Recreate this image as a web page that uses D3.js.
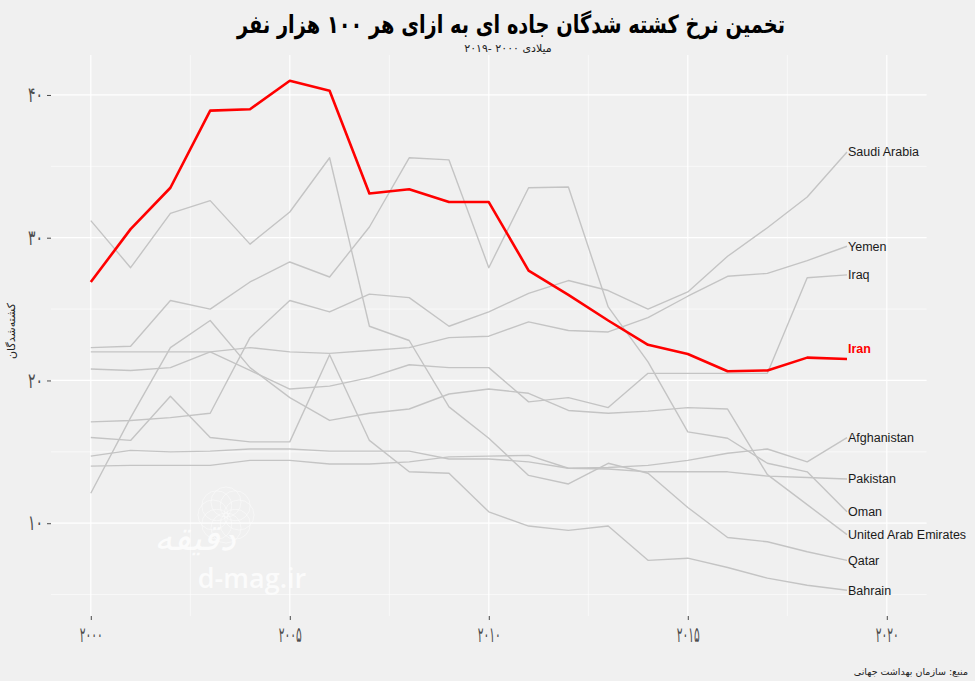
<!DOCTYPE html>
<html><head><meta charset="utf-8">
<script src="https://cdn.jsdelivr.net/npm/d3@7/dist/d3.min.js"></script>
<style>body{margin:0;background:#f0f0f0;} svg{display:block;}</style>
</head><body>
<svg id="chart" width="975" height="681"></svg>
<script>
// ---- data ----
const years = [2000,2001,2002,2003,2004,2005,2006,2007,2008,2009,2010,2011,2012,2013,2014,2015,2016,2017,2018,2019];
const iran        = [26.9,30.6,33.5,38.9,39.0,41.0,40.3,33.1,33.4,32.5,32.5,27.7,26.0,24.2,22.5,21.85,20.65,20.7,21.6,21.5];
const saudiArabia = [17.1,17.2,17.4,17.7,23.0,25.6,24.8,26.05,25.8,23.8,24.8,26.1,27.0,26.3,25.0,26.2,28.7,30.7,32.85,36.0];
const yemen       = [22.0,22.0,22.0,22.0,22.3,22.0,21.9,22.1,22.3,23.0,23.1,24.1,23.5,23.4,24.4,25.9,27.3,27.5,28.4,29.4];
const iraq        = [20.8,20.7,20.9,22.0,20.7,19.4,19.6,20.2,21.1,20.9,20.9,18.5,18.8,18.1,20.5,20.5,20.5,20.5,27.2,27.4];
const afghanistan = [14.0,14.05,14.05,14.05,14.4,14.4,14.15,14.15,14.3,14.65,14.7,14.75,13.85,13.9,14.05,14.4,14.9,15.2,14.3,16.0];
const pakistan    = [14.7,15.1,15.0,15.05,15.2,15.2,15.05,15.05,15.05,14.5,14.5,14.3,13.85,13.8,13.6,13.6,13.6,13.3,13.2,13.1];
const oman        = [22.3,22.4,25.6,25.0,26.9,28.3,27.25,30.75,35.6,35.45,27.9,33.5,33.55,25.15,21.3,16.4,15.95,14.2,13.6,10.8];
const uae         = [12.1,17.4,22.3,24.2,20.9,18.8,17.2,17.7,18.0,19.05,19.4,19.1,17.9,17.7,17.85,18.1,18.0,13.4,11.3,9.2];
const qatar       = [31.2,27.9,31.7,32.6,29.55,31.8,35.6,23.8,22.8,18.15,15.95,13.35,12.75,14.2,13.5,11.1,9.0,8.7,8.0,7.4];
const bahrain     = [16.0,15.8,18.9,16.0,15.7,15.7,21.8,15.8,13.6,13.5,10.8,9.8,9.5,9.8,7.4,7.55,6.9,6.15,5.65,5.3];

const countryNames = ["Saudi Arabia","Yemen","Iraq","Afghanistan","Pakistan","Oman","United Arab Emirates","Qatar","Bahrain"];
const countryValues = [saudiArabia,yemen,iraq,afghanistan,pakistan,oman,uae,qatar,bahrain];
const highlightName = "Iran";

const xTicks = [2000,2005,2010,2015,2020];
const xTickLabels = ["۲۰۰۰","۲۰۰۵","۲۰۱۰","۲۰۱۵","۲۰۲۰"];
const yTicks = [10,20,30,40];
const yTickLabels = ["۱۰","۲۰","۳۰","۴۰"];

const titleText = "تخمین نرخ کشته شدگان جاده ای به ازای هر ۱۰۰ هزار نفر";
// subtitle pieces in visual (left-to-right) order
const subtitleParts = ["۲۰۱۹-", "۲۰۰۰", "میلادی"];
const yTitleText = "کشته‌شدگان";
const sourceText = "منبع: سازمان بهداشت جهانی";

// ---- layout ----
const W = 975, H = 681;
const panel = {left: 51, right: 926.6, top: 55, bottom: 616};
const svg = d3.select("#chart");

svg.append("rect").attr("width", W).attr("height", H).attr("fill", "#f0f0f0");

const x = d3.scaleLinear().domain([1999, 2021]).range([panel.left, panel.right]);
const y = d3.scaleLinear().domain([3.5, 42.8]).range([panel.bottom, panel.top]);

// grid
const g = svg.append("g");
const minorX = [2002.5, 2007.5, 2012.5, 2017.5];
const minorY = [5, 15, 25, 35];
g.selectAll(".mx").data(minorX).join("line")
  .attr("x1", d => x(d)).attr("x2", d => x(d)).attr("y1", panel.top).attr("y2", panel.bottom)
  .attr("stroke", "#ffffff").attr("stroke-width", 0.6);
g.selectAll(".my").data(minorY).join("line")
  .attr("y1", d => y(d)).attr("y2", d => y(d)).attr("x1", panel.left).attr("x2", panel.right)
  .attr("stroke", "#ffffff").attr("stroke-width", 0.6);
g.selectAll(".Mx").data(xTicks).join("line")
  .attr("x1", d => x(d)).attr("x2", d => x(d)).attr("y1", panel.top).attr("y2", panel.bottom)
  .attr("stroke", "#ffffff").attr("stroke-width", 1.2);
g.selectAll(".My").data(yTicks).join("line")
  .attr("y1", d => y(d)).attr("y2", d => y(d)).attr("x1", panel.left).attr("x2", panel.right)
  .attr("stroke", "#ffffff").attr("stroke-width", 1.2);

// watermark (logo + site)
const wm = svg.append("g").attr("opacity", 0.75);
const rc = {cx: 226, cy: 515};
d3.range(8).forEach(i => {
  const a = i * Math.PI / 4;
  wm.append("circle").attr("cx", rc.cx + 13*Math.cos(a)).attr("cy", rc.cy + 13*Math.sin(a)).attr("r", 15)
    .attr("fill", "none").attr("stroke", "#ffffff").attr("stroke-width", 0.6);
});
wm.append("text").attr("x", 195).attr("y", 550).attr("text-anchor", "middle")
  .attr("font-family", "DejaVu Sans").attr("font-size", 36).attr("font-style", "italic")
  .attr("fill", "#ffffff").text("دقیقه");
wm.append("text").attr("x", 252).attr("y", 588).attr("text-anchor", "middle")
  .attr("font-family", "Open Sans, Liberation Sans, sans-serif").attr("font-weight", 600)
  .attr("font-size", 27).attr("fill", "#ffffff").text("d-mag.ir");

// axes
const xAxis = d3.axisBottom(x).tickValues(xTicks).tickSize(4).tickPadding(7)
  .tickFormat((d, i) => xTickLabels[i]);
const gx = svg.append("g").attr("transform", `translate(0,${panel.bottom})`).call(xAxis);
gx.select(".domain").remove();
gx.selectAll("line").attr("stroke", "#4d4d4d").attr("stroke-width", 1);
gx.selectAll("text").attr("font-family", "DejaVu Sans").attr("font-size", 21).attr("fill", "#4d4d4d")
  .attr("textLength", 23).attr("lengthAdjust", "spacingAndGlyphs");

const yAxis = d3.axisLeft(y).tickValues(yTicks).tickSize(4).tickPadding(4)
  .tickFormat((d, i) => yTickLabels[i]);
const gy = svg.append("g").attr("transform", `translate(${panel.left},0)`).call(yAxis);
gy.select(".domain").remove();
gy.selectAll("line").attr("stroke", "#4d4d4d").attr("stroke-width", 1);
gy.selectAll("text").attr("font-family", "DejaVu Sans").attr("font-size", 21).attr("fill", "#4d4d4d")
  .attr("textLength", 15).attr("lengthAdjust", "spacingAndGlyphs");

// lines
const line = d3.line().x((d, i) => x(years[i])).y(d => y(d));
svg.append("g").selectAll("path").data(countryValues).join("path")
  .attr("d", d => line(d)).attr("fill", "none").attr("stroke", "#c4c4c4").attr("stroke-width", 1.4)
  .attr("stroke-linejoin", "round");
svg.append("path").attr("d", line(iran)).attr("fill", "none").attr("stroke", "#ff0000")
  .attr("stroke-width", 2.6).attr("stroke-linejoin", "round");

// end labels
const lastYear = years[years.length - 1];
svg.append("g").selectAll("text").data(countryNames).join("text")
  .attr("x", x(lastYear) + 1).attr("y", (d, i) => y(countryValues[i][countryValues[i].length - 1]))
  .attr("dy", "0.35em").attr("font-family", "Liberation Sans, Arial, sans-serif").attr("font-size", 12.5)
  .attr("fill", "#1a1a1a").text(d => d);
svg.append("text").attr("x", x(lastYear) + 1).attr("y", y(iran[iran.length - 1]) - 10)
  .attr("dy", "0.35em").attr("font-family", "Liberation Sans, Arial, sans-serif").attr("font-size", 12.5)
  .attr("font-weight", "bold").attr("fill", "#ff0000").text(highlightName);

// titles
svg.append("text").attr("x", 511).attr("y", 33).attr("text-anchor", "middle")
  .attr("font-family", "DejaVu Sans").attr("font-weight", "bold").attr("font-size", 25)
  .attr("textLength", 548).attr("lengthAdjust", "spacingAndGlyphs")
  .attr("fill", "#000").text(titleText);

// subtitle laid out piece by piece, left to right, centred at 508
const sub = svg.append("g");
const pieces = subtitleParts.map(t => sub.append("text").attr("y", 52)
  .attr("font-family", "DejaVu Sans").attr("font-size", 11).attr("fill", "#222").text(t));
const gap = 3.5;
const widths = pieces.map(p => p.node().getComputedTextLength());
const total = d3.sum(widths) + gap * (pieces.length - 1);
let cursor = 508 - total / 2;
pieces.forEach((p, i) => { p.attr("x", cursor); cursor += widths[i] + gap; });

svg.append("text").attr("transform", "translate(15,331) rotate(-90)").attr("text-anchor", "middle")
  .attr("font-family", "DejaVu Sans").attr("font-size", 11).attr("fill", "#222").text(yTitleText);
svg.append("text").attr("x", 968).attr("y", 675).attr("text-anchor", "end")
  .attr("font-family", "DejaVu Sans").attr("font-size", 9.5).attr("fill", "#222").text(sourceText);
</script>
</body></html>
